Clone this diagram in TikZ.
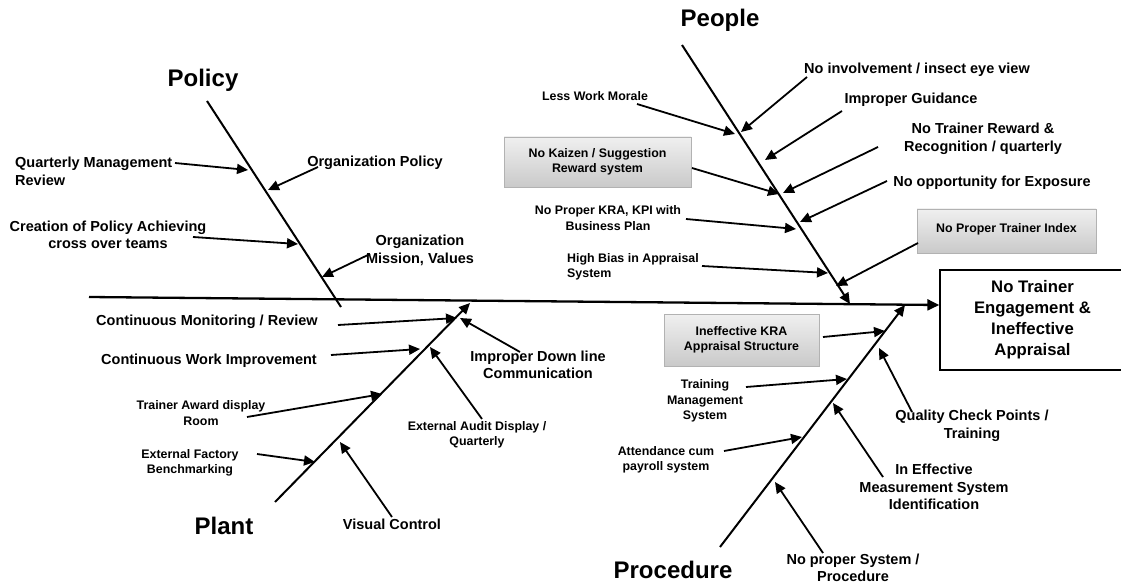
\documentclass[tikz,border=0pt]{standalone}
\usepackage{fontspec}
\setmainfont{Liberation Sans}
\usetikzlibrary{arrows.meta,calc}
\tikzset{
  cat/.style={font=\fontsize{24}{28}\selectfont\bfseries, inner sep=0pt},
  lab/.style={font=\fontsize{14.5}{17.5}\selectfont\bfseries, align=center, inner sep=0pt},
  slab/.style={font=\fontsize{12.4}{15.5}\selectfont\bfseries, align=center, inner sep=0pt},
  greybox/.style={slab, draw=gray!60, top color=gray!12, bottom color=gray!42},
  bone/.style={line width=2pt},
  cause/.style={line width=1.8pt, -{Triangle[length=11pt,width=10pt]}},
}

\begin{document}
\begin{tikzpicture}[x=1pt,y=-1pt]
  \fill[white] (0,0) rectangle (1121,585);
  \useasboundingbox (0,0) rectangle (1121,585);

  % effect and spine
  \node[draw, line width=1.4pt, minimum width=185pt, minimum height=100pt,
        font=\fontsize{16.7}{21}\selectfont\bfseries, align=center] (effect) at (1032.5,320)
        {No Trainer\\Engagement \&\\Ineffective\\Appraisal};
  \coordinate (spine-a) at (89,297);
  \coordinate (spine-b) at ($(effect.west)+(0,-15)$);
  \draw[line width=2.3pt, -{Triangle[length=12pt,width=11pt]}] (spine-a) -- (spine-b);

  % bones
  \coordinate (pol-a) at (207,101);  \coordinate (pol-b) at (341,307);
  \coordinate (peo-a) at (682,45);   \coordinate (peo-b) at (850,304);
  \coordinate (pla-a) at (275,502);  \coordinate (pla-b) at (470,303);
  \coordinate (pro-a) at (720,547);  \coordinate (pro-b) at (905,305);
  \draw[bone] (pol-a) -- (pol-b);
  \draw[bone, -{Triangle[length=11pt,width=10pt]}] (peo-a) -- (peo-b);
  \draw[bone, -{Triangle[length=11pt,width=10pt]}] (pla-a) -- (pla-b);
  \draw[bone, -{Triangle[length=11pt,width=10pt]}] (pro-a) -- (pro-b);

  \node[cat] (policy) at (203,80) {Policy};
  \node[cat] (people) at (720,20) {People};
  \node[cat] (plant) at (224,526) {Plant};
  \node[cat] (procedure) at (673,570) {Procedure};

  % Policy
  \node[lab, align=left, anchor=west] (qmr) at (15,171.5) {Quarterly Management\\Review};
  \node[lab] (orgpol) at (375,163) {Organization Policy};
  \node[lab] (creat) at (108,235) {Creation of Policy Achieving\\cross over teams};
  \node[lab] (orgmis) at (420,250.5) {Organization\\Mission, Values};
  \coordinate (qmr-t) at (175,163);    \coordinate (qmr-h) at (248,170);
  \coordinate (orgpol-t) at (318,167); \coordinate (orgpol-h) at (268,190);
  \coordinate (creat-t) at (193,237);  \coordinate (creat-h) at (298,244);
  \coordinate (orgmis-t) at (370,254); \coordinate (orgmis-h) at (322,277);

  % People
  \node[slab] (morale) at (595,96) {Less Work Morale};
  \node[greybox, minimum width=187pt, minimum height=50pt] (kaizen) at (597.5,162)
        {No Kaizen / Suggestion\\Reward system};
  \node[lab] (involve) at (917,70) {No involvement / insect eye view};
  \node[lab] (guid) at (911,100) {Improper Guidance};
  \node[lab] (reward) at (983,139) {No Trainer Reward \&\\Recognition / quarterly};
  \node[slab] (kra) at (608,218) {No Proper KRA, KPI with\\Business Plan};
  \node[lab] (expo) at (992,183) {No opportunity for Exposure};
  \node[slab, align=left, anchor=west] (bias) at (567,267) {High Bias in Appraisal\\System};
  \node[greybox, minimum width=179pt, minimum height=44pt] (tindex) at (1006.5,231)
        {\raisebox{6pt}{No Proper Trainer Index}};
  \coordinate (morale-t) at (637,104);  \coordinate (morale-h) at (735,134);
  \coordinate (involve-t) at (807,77);  \coordinate (involve-h) at (741,132);
  \coordinate (guid-t) at (842,111);    \coordinate (guid-h) at (765,160);
  \coordinate (kaizen-t) at (692,168);  \coordinate (kaizen-h) at (779,194);
  \coordinate (reward-t) at (878,147);  \coordinate (reward-h) at (783,193);
  \coordinate (kra-t) at (686,219);     \coordinate (kra-h) at (796,229);
  \coordinate (expo-t) at (887,181);    \coordinate (expo-h) at (800,222);
  \coordinate (bias-t) at (702,266);    \coordinate (bias-h) at (828,273);
  \coordinate (tindex-t) at (918,243);  \coordinate (tindex-h) at (836,286);

  % Plant
  \node[lab] (monit) at (207,322) {Continuous Monitoring / Review};
  \node[lab] (workimp) at (209,361) {Continuous Work Improvement};
  \node[slab] (award) at (201,413) {Trainer Award display\\Room};
  \node[slab] (bench) at (190,463) {External Factory\\Benchmarking};
  \node[lab] (visual) at (392,524) {Visual Control};
  \node[slab] (audit) at (477,435) {External Audit Display /\\Quarterly};
  \node[lab] (downline) at (538,365) {Improper Down line\\Communication};
  \coordinate (monit-t) at (338,325);    \coordinate (monit-h) at (457,318);
  \coordinate (workimp-t) at (331,355);  \coordinate (workimp-h) at (420,349);
  \coordinate (award-t) at (247,417);    \coordinate (award-h) at (382,394);
  \coordinate (bench-t) at (257,454);    \coordinate (bench-h) at (315,462);
  \coordinate (visual-t) at (392,517);   \coordinate (visual-h) at (340,442);
  \coordinate (audit-t) at (482,419);    \coordinate (audit-h) at (430,347);
  \coordinate (downline-t) at (520,352); \coordinate (downline-h) at (460,318);

  % Procedure
  \node[greybox, minimum width=155pt, minimum height=52pt] (kraapp) at (741.5,340)
        {Ineffective KRA\\Appraisal Structure};
  \node[slab] (tms) at (705,401) {Training\\Management\\System};
  \node[slab] (attend) at (666,460) {Attendance cum\\payroll system};
  \node[lab] (quality) at (972,426) {Quality Check Points /\\Training};
  \node[lab] (measure) at (934,487) {In Effective\\Measurement System\\Identification};
  \node[lab] (noproc) at (853,568) {No proper System /\\Procedure};
  \coordinate (kraapp-t) at (823,337);  \coordinate (kraapp-h) at (885,331);
  \coordinate (tms-t) at (746,387);     \coordinate (tms-h) at (847,379);
  \coordinate (attend-t) at (724,451);  \coordinate (attend-h) at (802,437);
  \coordinate (quality-t) at (912,412); \coordinate (quality-h) at (879,348);
  \coordinate (measure-t) at (883,477); \coordinate (measure-h) at (833,403);
  \coordinate (noproc-t) at (823,553);  \coordinate (noproc-h) at (775,482);

  % causes
  \foreach \c in {qmr,orgpol,creat,orgmis,
                  morale,involve,guid,kaizen,reward,kra,expo,bias,tindex,
                  monit,workimp,award,bench,visual,audit,downline,
                  kraapp,tms,attend,quality,measure,noproc}
    \draw[cause] (\c-t) -- (\c-h);
\end{tikzpicture}
\end{document}
